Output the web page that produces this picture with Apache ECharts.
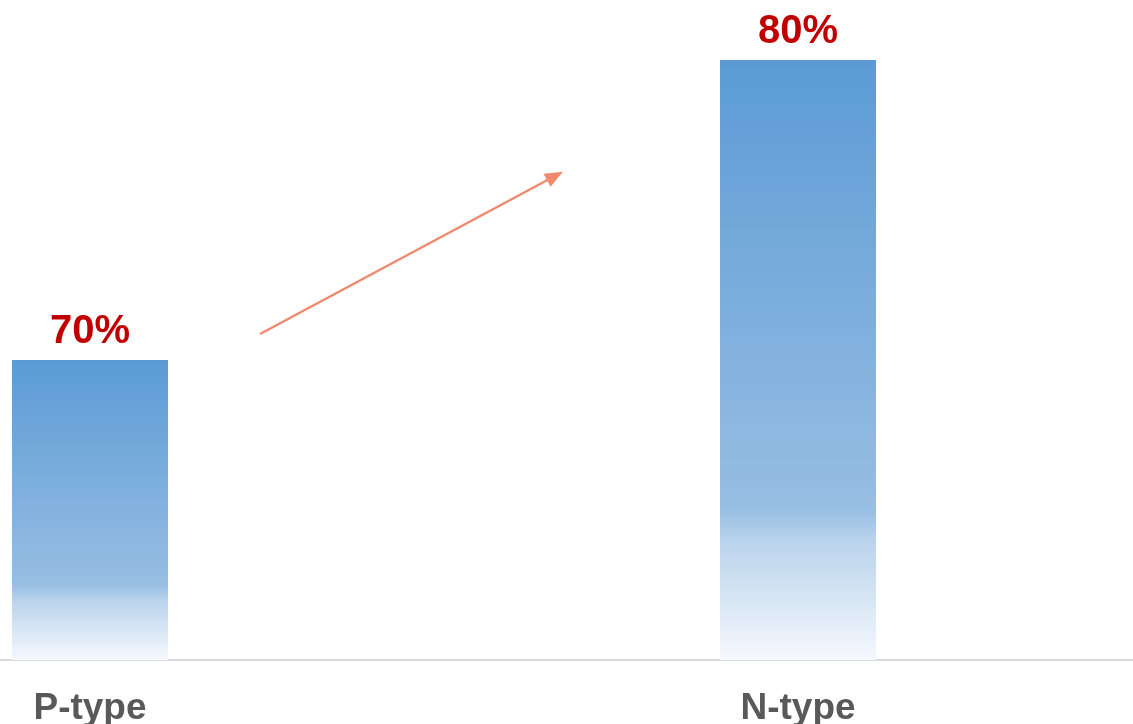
<!DOCTYPE html>
<html>
<head>
<meta charset="utf-8">
<title>P-type vs N-type</title>
<script src="https://cdn.jsdelivr.net/npm/echarts@6/dist/echarts.min.js"></script>
<style>
  html, body { margin: 0; padding: 0; background: #ffffff; }
  #chart { width: 1133px; height: 724px; }
</style>
</head>
<body>
<div id="chart"></div>
<script>
// data
const categories = ['P-type', 'N-type']
const values = [70, 80]
const valueLabels = ['70%', '80%']

const fontFamily = '"Liberation Sans", Arial, Helvetica, sans-serif'

// bar fill: blue at top fading to near white at the base
const barFill = new echarts.graphic.LinearGradient(0, 0, 0, 1, [
  { offset: 0, color: '#5B9BD5' },
  { offset: 0.75, color: '#98BEE3' },
  { offset: 0.8, color: '#B9D3EC' },
  { offset: 1, color: '#F6F9FD' }
])

const chart = echarts.init(document.getElementById('chart'), null, { renderer: 'canvas' })

const option = {
  backgroundColor: '#ffffff',
  animation: false,
  // the plot runs wider than the view so the two columns sit where they do in the source
  grid: { left: -264, right: -19, top: 60, bottom: 64, containLabel: false, outerBoundsMode: 'none' },
  xAxis: {
    type: 'category',
    data: categories,
    axisLine: { show: true, lineStyle: { color: '#D9D9D9', width: 2 } },
    axisTick: { show: false },
    axisLabel: {
      color: '#595959',
      fontFamily,
      fontWeight: 'bold',
      fontSize: 37,
      margin: 30
    }
  },
  yAxis: {
    type: 'value',
    min: 60,
    max: 80,
    show: false,
    splitLine: { show: false }
  },
  series: [
    {
      type: 'bar',
      data: values,
      barWidth: 156,
      itemStyle: { color: barFill },
      label: {
        show: true,
        position: 'top',
        distance: 8,
        color: '#C00000',
        fontFamily,
        fontWeight: 'bold',
        fontSize: 40,
        formatter: p => valueLabels[p.dataIndex]
      },
      markLine: {
        silent: true,
        animation: false,
        symbol: ['none', 'triangle'],
        symbolSize: [15, 18],
        label: { show: false },
        lineStyle: { color: '#F08A6E', width: 2.5, type: 'solid' },
        // upward trend arrow drawn on screen, between the columns
        data: [[{ x: 260, y: 334 }, { x: 555, y: 176 }]]
      }
    }
  ]
}

chart.setOption(option)
</script>
</body>
</html>
